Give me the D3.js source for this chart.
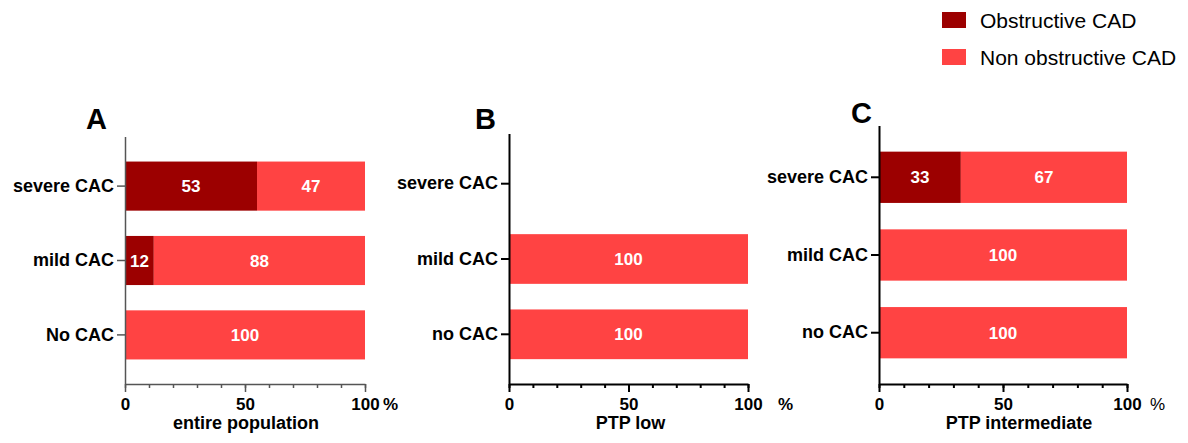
<!DOCTYPE html>
<html>
<head>
<meta charset="utf-8">
<script src="https://cdn.jsdelivr.net/npm/d3@7"></script>
<style>
  body { margin: 0; background: #fff; }
  svg { font-family: "Liberation Sans", Arial, sans-serif; }
</style>
</head>
<body>
<div id="chart"></div>
<script>
// data
let seriesNames = ['Obstructive CAD', 'Non obstructive CAD'];
let colors = ['#9c0000', '#ff4343'];

let categoriesA = ['severe CAC', 'mild CAC', 'No CAC'];
let obstructiveA = [55, 12, 0];
let nonObstructiveA = [45, 88, 100];
// printed numbers (the severe bar is drawn a bit wider than its "53" label)
let labelsObstructiveA = ['53', '12', ''];
let labelsNonObstructiveA = ['47', '88', '100'];

let categoriesB = ['severe CAC', 'mild CAC', 'no CAC'];
let obstructiveB = [0, 0, 0];
let nonObstructiveB = [0, 100, 100];
let labelsObstructiveB = ['', '', ''];
let labelsNonObstructiveB = ['', '100', '100'];

let categoriesC = ['severe CAC', 'mild CAC', 'no CAC'];
let obstructiveC = [33, 0, 0];
let nonObstructiveC = [67, 100, 100];
let labelsObstructiveC = ['33', '', ''];
let labelsNonObstructiveC = ['67', '100', '100'];

let xTicks = [0, 50, 100];

let svg = d3.select('#chart')
  .append('svg')
  .attr('width', 1188)
  .attr('height', 443);

function renderPanel(options) {
  let {
    letter, letterX, letterY,
    left, right, top, bottom,
    categories, obstructive, nonObstructive,
    labelsObstructive, labelsNonObstructive,
    title, titleDx, pctDx, pctBold, axisColor, axisWidth
  } = options;

  let x = d3.scaleLinear().domain([0, 100]).range([left, right]);
  let y = d3.scaleBand()
    .domain(categories)
    .range([top, bottom])
    .paddingInner(0.34)
    .paddingOuter(0.33);

  let data = categories.map((c, i) => ({
    cat: c,
    segs: [
      { x0: 0, x1: obstructive[i], color: colors[0], label: labelsObstructive[i] },
      { x0: obstructive[i], x1: obstructive[i] + nonObstructive[i], color: colors[1], label: labelsNonObstructive[i] }
    ]
  }));

  let g = svg.append('g');

  let rows = g.selectAll('.row')
    .data(data)
    .enter().append('g')
    .attr('class', 'row');

  rows.selectAll('rect')
    .data(d => d.segs.map(s => Object.assign({ cat: d.cat }, s)))
    .enter().append('rect')
    .attr('x', d => x(d.x0))
    .attr('y', d => y(d.cat))
    .attr('width', d => x(d.x1) - x(d.x0))
    .attr('height', y.bandwidth())
    .attr('fill', d => d.color);

  rows.selectAll('text')
    .data(d => d.segs.map(s => Object.assign({ cat: d.cat }, s)))
    .enter().append('text')
    .attr('x', d => (x(d.x0) + x(d.x1)) / 2)
    .attr('y', d => y(d.cat) + y.bandwidth() / 2 + 6)
    .attr('text-anchor', 'middle')
    .attr('fill', '#fff')
    .attr('font-weight', 'bold')
    .attr('font-size', 17)
    .text(d => d.label);

  // y axis
  let yAxis = g.append('g')
    .attr('transform', 'translate(' + left + ',0)')
    .call(d3.axisLeft(y).tickSize(8).tickPadding(3).tickSizeOuter(0));
  yAxis.select('.domain').attr('stroke', axisColor).attr('stroke-width', axisWidth)
    .attr('d', 'M0.5,' + top + 'V' + bottom);
  yAxis.selectAll('.tick line').attr('stroke', axisColor).attr('stroke-width', axisWidth);
  yAxis.selectAll('.tick text')
    .attr('font-size', 18)
    .attr('font-weight', 'bold')
    .attr('fill', '#000')
    .attr('font-family', '"Liberation Sans", Arial, sans-serif');

  // x axis: minor ticks every 10, labelled major ticks
  let xMinor = g.append('g')
    .attr('transform', 'translate(0,' + bottom + ')')
    .call(d3.axisBottom(x).ticks(10).tickSize(4).tickFormat('').tickSizeOuter(0));
  xMinor.select('.domain').attr('stroke', axisColor).attr('stroke-width', axisWidth);
  xMinor.selectAll('.tick line').attr('stroke', axisColor).attr('stroke-width', axisWidth);

  let xMajor = g.append('g')
    .attr('transform', 'translate(0,' + bottom + ')')
    .call(d3.axisBottom(x).tickValues(xTicks).tickSize(8).tickPadding(6));
  xMajor.select('.domain').remove();
  xMajor.selectAll('.tick line').attr('stroke', axisColor).attr('stroke-width', axisWidth);
  xMajor.selectAll('.tick text')
    .attr('font-size', 17)
    .attr('font-weight', 'bold')
    .attr('fill', '#000')
    .attr('font-family', '"Liberation Sans", Arial, sans-serif');

  g.append('text')
    .attr('x', right + pctDx)
    .attr('y', bottom + 26)
    .attr('font-size', 17)
    .attr('font-weight', pctBold ? 'bold' : 'normal')
    .text('%');

  g.append('text')
    .attr('x', (left + right) / 2 + titleDx)
    .attr('y', bottom + 45)
    .attr('text-anchor', 'middle')
    .attr('font-size', 18)
    .attr('font-weight', 'bold')
    .text(title);

  g.append('text')
    .attr('x', letterX)
    .attr('y', letterY)
    .attr('font-size', 29)
    .attr('font-weight', 'bold')
    .text(letter);
}

renderPanel({
  letter: 'A', letterX: 86, letterY: 129,
  left: 125, right: 365, top: 137, bottom: 384,
  categories: categoriesA, obstructive: obstructiveA, nonObstructive: nonObstructiveA,
  labelsObstructive: labelsObstructiveA, labelsNonObstructive: labelsNonObstructiveA,
  title: 'entire population', titleDx: 1, pctDx: 18, pctBold: true, axisColor: '#555', axisWidth: 1.5
});

renderPanel({
  letter: 'B', letterX: 475, letterY: 129,
  left: 509, right: 748, top: 134, bottom: 384,
  categories: categoriesB, obstructive: obstructiveB, nonObstructive: nonObstructiveB,
  labelsObstructive: labelsObstructiveB, labelsNonObstructive: labelsNonObstructiveB,
  title: 'PTP low', titleDx: 2, pctDx: 30, pctBold: true, axisColor: '#000', axisWidth: 2
});

renderPanel({
  letter: 'C', letterX: 851, letterY: 123,
  left: 879, right: 1127, top: 126, bottom: 384,
  categories: categoriesC, obstructive: obstructiveC, nonObstructive: nonObstructiveC,
  labelsObstructive: labelsObstructiveC, labelsNonObstructive: labelsNonObstructiveC,
  title: 'PTP intermediate', titleDx: 16, pctDx: 23, pctBold: false, axisColor: '#000', axisWidth: 2
});

// legend
let legend = svg.selectAll('.legend')
  .data(seriesNames)
  .enter().append('g')
  .attr('class', 'legend')
  .attr('transform', (d, i) => 'translate(942,' + (12 + i * 37) + ')');

legend.append('rect')
  .attr('width', 24)
  .attr('height', 16)
  .attr('fill', (d, i) => colors[i]);

legend.append('text')
  .attr('x', 38)
  .attr('y', 16)
  .attr('font-size', 21)
  .text(d => d);
</script>
</body>
</html>
